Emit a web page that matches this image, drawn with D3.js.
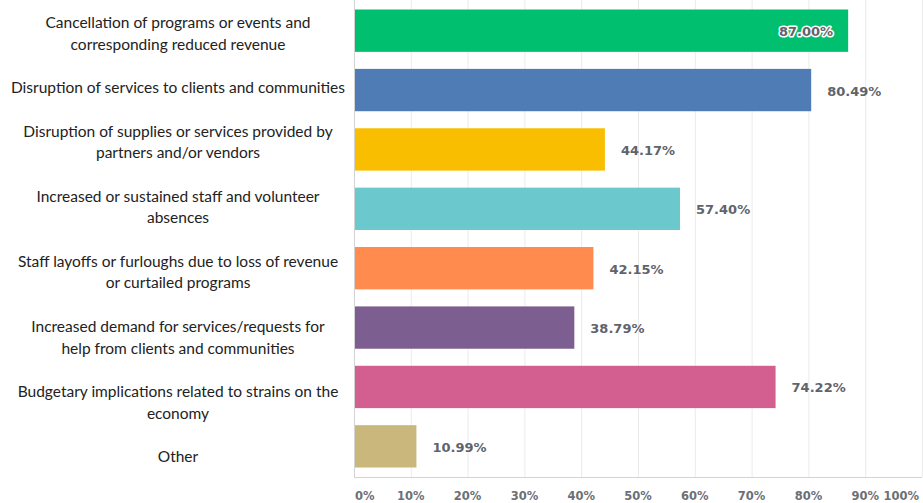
<!DOCTYPE html>
<html>
<head>
<meta charset="utf-8">
<script src="https://cdn.jsdelivr.net/npm/d3@7"></script>
<style>
  body { margin: 0; background: #fff; }
  svg { display: block; }
</style>
</head>
<body>
<div id="chart"></div>
<script>
// answer choices, wrapped the way the survey tool wraps them
var categories = [
  ['Cancellation of programs or events and', 'corresponding reduced revenue'],
  ['Disruption of services to clients and communities'],
  ['Disruption of supplies or services provided by', 'partners and/or vendors'],
  ['Increased or sustained staff and volunteer', 'absences'],
  ['Staff layoffs or furloughs due to loss of revenue', 'or curtailed programs'],
  ['Increased demand for services/requests for', 'help from clients and communities'],
  ['Budgetary implications related to strains on the', 'economy'],
  ['Other']
];
var values = [87.00, 80.49, 44.17, 57.40, 42.15, 38.79, 74.22, 10.99];
var colors = ['#00bf6f', '#507cb6', '#f9be00', '#6bc8cd', '#ff8b4f', '#7d5e90', '#d25f90', '#c9b77c'];
var ticks = [0, 10, 20, 30, 40, 50, 60, 70, 80, 90, 100];

var w = 923, h = 503;
var left = 354, right = 922, plotBottom = 477;

var svg = d3.select('#chart')
  .append('svg')
  .attr('width', w)
  .attr('height', h);

var xScale = d3.scaleLinear().domain([0, 100]).range([left, right]);
var yScale = d3.scaleBand()
  .domain(d3.range(values.length))
  .range([0, plotBottom])
  .paddingInner(0.287)
  .paddingOuter(0.16);

// gridlines
svg.append('g').attr('id', 'grid')
  .selectAll('line')
  .data(ticks.slice(1))
  .enter().append('line')
  .attr('x1', function(d) { return xScale(d) + 0.5; })
  .attr('x2', function(d) { return xScale(d) + 0.5; })
  .attr('y1', 0)
  .attr('y2', plotBottom)
  .attr('stroke', '#ebebeb')
  .attr('stroke-width', 1);

// bars
svg.append('g').attr('id', 'bars')
  .selectAll('rect')
  .data(values)
  .enter().append('rect')
  .attr('x', xScale(0))
  .attr('y', function(d, i) { return yScale(i); })
  .attr('width', function(d) { return xScale(d) - xScale(0); })
  .attr('height', yScale.bandwidth())
  .attr('fill', function(d, i) { return colors[i]; });

// axis lines
svg.append('line')
  .attr('x1', left + 0.5).attr('x2', left + 0.5)
  .attr('y1', 0).attr('y2', plotBottom + 0.5)
  .attr('stroke', '#d3d3d3');
svg.append('line')
  .attr('x1', left).attr('x2', right)
  .attr('y1', plotBottom + 0.5).attr('y2', plotBottom + 0.5)
  .attr('stroke', '#d3d3d3');

// x tick labels (first and last kept inside the chart)
svg.append('g').attr('id', 'axis-x')
  .selectAll('text')
  .data(ticks)
  .enter().append('text')
  .attr('x', function(d, i) {
    if (i === 0) return xScale(d) + 1;
    if (i === ticks.length - 1) return xScale(d) - 3;
    return xScale(d);
  })
  .attr('y', 500)
  .attr('text-anchor', function(d, i) {
    return i === 0 ? 'start' : (i === ticks.length - 1 ? 'end' : 'middle');
  })
  .attr('font-family', 'DejaVu Sans, sans-serif')
  .attr('font-weight', 'bold')
  .attr('font-size', 11.5)
  .attr('fill', '#6b7077')
  .text(function(d) { return d + '%'; });

// value labels, put inside the bar when there is no room after it
var fmt = d3.format('.2f');
var gLabels = svg.append('g').attr('id', 'values');
values.forEach(function(v, i) {
  var cy = yScale(i) + yScale.bandwidth() / 2 + 1;
  var t = gLabels.append('text')
    .attr('x', xScale(v) + 16)
    .attr('y', cy)
    .attr('dominant-baseline', 'central')
    .attr('font-family', 'DejaVu Sans, sans-serif')
    .attr('font-weight', 'bold')
    .attr('font-size', 13)
    .attr('fill', '#5f646b')
    .text(fmt(v) + '%');
  var tw = t.node().getComputedTextLength();
  if (xScale(v) + 16 + tw > w - 10) {
    t.attr('x', xScale(v) - 15)
      .attr('text-anchor', 'end')
      .attr('stroke', '#fff')
      .attr('stroke-width', 3)
      .attr('paint-order', 'stroke')
      .attr('stroke-linejoin', 'round');
  }
});

// category labels flow down the left side, one blank line between answers
var lineH = 21.7, firstLine = 22, labelX = 178;
var gCats = svg.append('g').attr('id', 'categories');
var k = 0;
categories.forEach(function(lines) {
  lines.forEach(function(line) {
    gCats.append('text')
      .attr('x', labelX)
      .attr('y', firstLine + k * lineH)
      .attr('dominant-baseline', 'central')
      .attr('text-anchor', 'middle')
      .attr('font-family', 'Lato, sans-serif')
      .attr('font-size', 15.5)
      .attr('fill', '#222')
      .text(line);
    k++;
  });
  k++;
});
</script>
</body>
</html>
